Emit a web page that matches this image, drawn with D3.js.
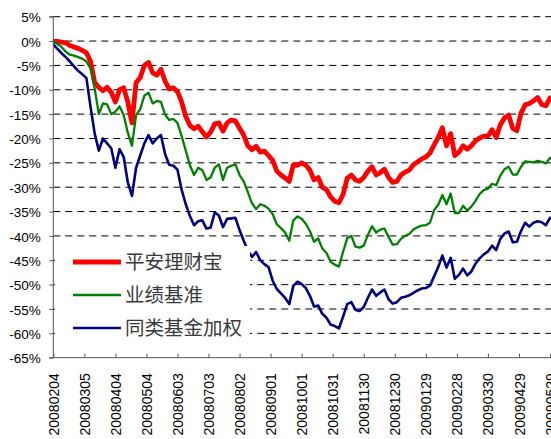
<!DOCTYPE html>
<html><head><meta charset="utf-8">
<script src="https://cdn.jsdelivr.net/npm/d3@7"></script>
<style>
html,body{margin:0;padding:0;background:#fff;overflow:hidden;}
svg{display:block;}
</style></head>
<body>
<svg id="chart" width="551" height="439"></svg>
<script>
// ---- data ----
const seriesNames = ["平安理财宝", "业绩基准", "同类基金加权"];
const seriesColors = ["#FF0000", "#008000", "#000080"];
const startDate = "20080204";
const stepDays = 4;
const tickLabels = ["20080204","20080305","20080404","20080504","20080603","20080703","20080802","20080901","20081001","20081031","20081130","20081230","20090129","20090228","20090330","20090429","20090529"];
const yTicks = [5,0,-5,-10,-15,-20,-25,-30,-35,-40,-45,-50,-55,-60,-65];

const redValues = [0,-0.05,-0.2,-0.35,-0.9,-1.2,-1.5,-1.9,-2.4,-4.2,
-8.5,-9.5,-10.2,-9.5,-10.5,-12.5,-10.0,-9.6,-12.5,-16.8,
-8.5,-7.5,-5.0,-4.4,-6.5,-7.0,-5.8,-8.2,-9.8,-9.6,
-10.4,-12.5,-15.5,-17.3,-18.0,-17.5,-18.6,-19.7,-18.7,-17.0,
-16.8,-18.5,-16.8,-16.2,-16.4,-17.9,-19.3,-21.5,-22.3,-21.6,
-22.8,-22.6,-23.5,-24.5,-26.7,-27.5,-28.1,-28.8,-25.4,-25.5,
-25.0,-25.5,-26.5,-28.5,-28.0,-30.0,-30.5,-32.0,-32.9,-33.2,
-31.5,-28.2,-27.5,-28.5,-28.8,-28.0,-26.7,-25.8,-27.5,-27.0,
-26.3,-28.0,-29.0,-28.8,-27.5,-26.9,-26.5,-25.4,-24.8,-24.2,
-23.8,-23.0,-21.3,-19.8,-17.8,-21.5,-19.0,-23.5,-22.8,-21.5,
-22.2,-21.5,-20.5,-19.9,-19.5,-19.5,-18.2,-19.8,-17.2,-15.8,
-15.2,-17.9,-18.4,-14.8,-13.1,-12.8,-12.3,-11.6,-13.0,-13.3,
-11.7,-12.0];

const greenValues = [0,-0.6,-1.2,-2.2,-2.8,-3.0,-3.3,-3.6,-4.2,-5.6,
-9.8,-15.0,-12.8,-13.0,-15.0,-14.5,-13.4,-15.2,-18.8,-21.5,
-15.2,-14.0,-11.2,-10.6,-12.8,-12.3,-12.5,-15.1,-16.2,-16.0,
-16.8,-19.5,-22.5,-25.5,-27.5,-26.0,-26.5,-28.5,-28.0,-26.0,
-25.3,-28.5,-26.0,-25.6,-25.3,-27.5,-28.8,-31.0,-33.3,-34.5,
-33.5,-33.8,-34.4,-35.5,-37.6,-38.4,-39.3,-41.0,-36.8,-36.0,
-36.5,-37.5,-39.0,-41.2,-40.5,-42.6,-43.5,-45.3,-45.9,-46.3,
-43.3,-40.5,-40.0,-42.2,-42.4,-42.0,-39.8,-38.0,-39.3,-38.7,
-38.5,-40.2,-41.8,-41.7,-40.6,-40.0,-39.6,-38.7,-38.2,-37.9,
-37.8,-37.3,-34.7,-33.6,-31.6,-33.5,-31.3,-35.3,-35.3,-33.8,
-34.8,-34.0,-32.8,-31.4,-30.6,-30.3,-29.3,-29.6,-27.6,-26.3,
-25.8,-27.4,-27.4,-25.8,-24.7,-24.8,-24.9,-24.6,-24.8,-25.1,
-24.0,-24.2];

const blueValues = [-0.7,-1.6,-2.5,-3.3,-4.2,-5.2,-6.1,-6.8,-7.6,-13.5,
-19.0,-22.5,-20.0,-21.0,-22.0,-26.0,-22.2,-23.8,-29.0,-31.8,
-26.0,-23.5,-21.0,-19.3,-21.0,-20.0,-19.3,-23.2,-25.4,-25.6,
-26.4,-30.5,-33.5,-35.9,-37.8,-37.0,-36.8,-38.5,-38.3,-35.2,
-35.8,-38.2,-36.5,-36.4,-36.3,-38.8,-41.0,-43.0,-44.3,-43.3,
-45.0,-45.8,-46.4,-49.2,-50.9,-51.8,-52.7,-54.0,-50.2,-49.4,
-49.9,-50.7,-52.3,-54.5,-54.3,-56.0,-56.8,-58.2,-58.5,-59.0,
-56.6,-54.0,-53.6,-55.2,-55.4,-54.6,-52.7,-51.0,-52.3,-51.6,
-51.0,-53.0,-53.9,-53.6,-52.7,-52.5,-52.2,-51.7,-51.2,-50.8,
-50.7,-50.2,-48.3,-46.4,-44.0,-46.5,-44.5,-48.8,-48.0,-46.7,
-48.1,-47.3,-45.7,-44.6,-43.8,-43.2,-42.0,-42.9,-40.6,-39.5,
-39.1,-41.3,-41.2,-39.0,-37.3,-38.1,-37.3,-37.0,-37.2,-37.8,
-36.3,-36.5];

// ---- chart ----
const svg = d3.select("#chart");
const parse = d3.utcParse("%Y%m%d");
const fmt = d3.utcFormat("%Y%m%d");
const t0 = parse(startDate);
const dates = redValues.map((_, i) => d3.utcDay.offset(t0, i * stepDays));
const tickDates = tickLabels.map(parse);

const plotLeft = 53.3, plotRight = 551, plotTop = 16.7, plotBottom = 357.7;
const x = d3.scaleUtc().domain([tickDates[0], tickDates[tickDates.length-1]]).range([plotLeft, 550]);
const y = d3.scaleLinear().domain([-65, 5]).range([plotBottom, plotTop]);

svg.append("defs").append("clipPath").attr("id","clip")
  .append("rect").attr("x", plotLeft).attr("y", 0).attr("width", plotRight - plotLeft + 10).attr("height", plotBottom);

// grid lines
svg.append("g").selectAll("line").data(yTicks.filter(v => v > -65)).join("line")
  .attr("x1", plotLeft).attr("x2", plotRight)
  .attr("y1", d => y(d)).attr("y2", d => y(d))
  .attr("stroke", "#000").attr("stroke-width", 1).attr("stroke-dasharray", "7,5");

// series lines
const line = d3.line().x((d, i) => x(dates[i])).y(d => y(d)).curve(d3.curveLinear);
const allSeries = [redValues, greenValues, blueValues];
const widths = [4.8, 2.3, 2.6];
const lg = svg.append("g").attr("clip-path", "url(#clip)");
allSeries.forEach((vals, k) => {
  lg.append("path").datum(vals).attr("d", line)
    .attr("fill", "none").attr("stroke", seriesColors[k])
    .attr("stroke-width", widths[k]).attr("stroke-linejoin", "round").attr("stroke-linecap", "round");
});

// legend box (covers lines)
const legend = svg.append("g");
legend.append("rect").attr("x", 55).attr("y", 246).attr("width", 195).attr("height", 99).attr("fill", "#fff");
seriesNames.forEach((name, k) => {
  const ly = 262 + k * 33;
  legend.append("line").attr("x1", 73).attr("x2", 121).attr("y1", ly).attr("y2", ly)
    .attr("stroke", seriesColors[k]).attr("stroke-width", widths[k]);
  legend.append("text").attr("x", 125).attr("y", ly).attr("dy", "0.36em")
    .attr("font-family", "'Noto Sans CJK SC', sans-serif").attr("font-size", "19.5px")
    .attr("fill", "#3a3a3a").text(name);
});

// y axis
const yAxis = d3.axisLeft(y).tickValues(yTicks).tickSize(4).tickFormat(d => d + "%");
const yg = svg.append("g").attr("transform", `translate(${plotLeft},0)`).call(yAxis);
yg.select(".domain").attr("stroke", "#555").attr("d", `M-4,${plotTop}H0V${plotBottom}H-4`);
yg.selectAll(".tick line").attr("stroke", "#555");
yg.selectAll(".tick text").attr("x", -12.5).attr("dy", "0.38em")
  .attr("font-family", "'Liberation Sans', Arial, sans-serif").attr("font-size", "13.5px").attr("fill", "#000");

// x axis
const xAxis = d3.axisBottom(x).tickValues(tickDates).tickSize(-4).tickFormat(fmt);
const xg = svg.append("g").attr("transform", `translate(0,${plotBottom})`).call(xAxis);
xg.select(".domain").attr("stroke", "#555").attr("d", `M${plotLeft},0H${plotRight}`);
xg.selectAll(".tick line").attr("stroke", "#555");
xg.selectAll(".tick text")
  .attr("transform", "rotate(-90)")
  .attr("x", -15.5).attr("y", 0).attr("dy", "0.36em")
  .attr("text-anchor", "end")
  .attr("font-family", "'Liberation Sans', Arial, sans-serif").attr("font-size", "14px").attr("fill", "#000");
</script>
</body></html>
